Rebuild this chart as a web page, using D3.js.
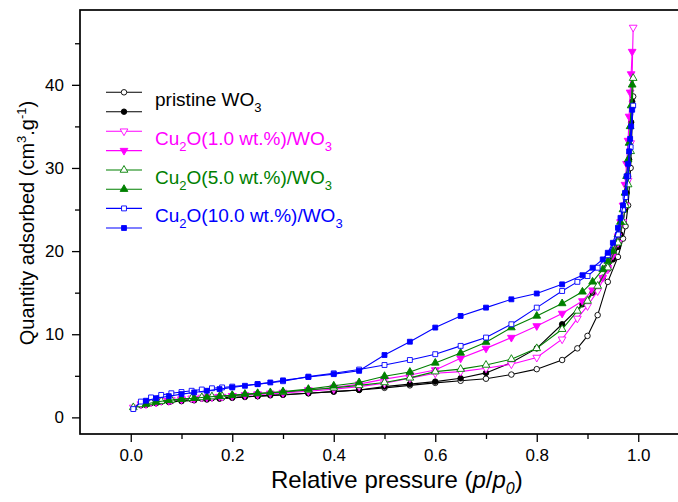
<!DOCTYPE html>
<html>
<head>
<meta charset="utf-8">
<script src="https://cdn.jsdelivr.net/npm/d3@7"></script>
<style>
  html, body { margin: 0; padding: 0; background: #fff; }
  svg { display: block; font-family: "Liberation Sans", Arial, sans-serif; }
</style>
</head>
<body>
<svg id="chart" width="678" height="502"></svg>
<script>
// Relative pressure grids (p/p0) for the adsorption and desorption branches
const adsP = [0.005, 0.02, 0.04, 0.06, 0.08, 0.10, 0.12, 0.14, 0.16, 0.18,
  0.20, 0.25, 0.30, 0.35, 0.40, 0.45, 0.50, 0.55, 0.60, 0.65,
  0.70, 0.75, 0.80, 0.85, 0.88, 0.90, 0.92, 0.94, 0.96, 0.97,
  0.975, 0.98, 0.985, 0.99];
const desP = [0.988, 0.986, 0.984, 0.982, 0.98, 0.977, 0.974, 0.97, 0.965, 0.96,
  0.95, 0.94, 0.93, 0.91, 0.89, 0.85, 0.80, 0.75, 0.70, 0.65,
  0.60, 0.55, 0.50, 0.45, 0.40, 0.35, 0.30, 0.275, 0.25, 0.225,
  0.20, 0.175, 0.15, 0.125, 0.10, 0.075, 0.05, 0.03];

// Quantity adsorbed (cm3/g), adsorption branch
const pristineAds = [1.1, 1.45, 1.7, 1.85, 1.95, 2.05, 2.15, 2.25, 2.3, 2.35,
  2.4, 2.55, 2.7, 2.9, 3.1, 3.3, 3.55, 3.85, 4.15, 4.4,
  4.65, 5.15, 5.8, 6.9, 8.3, 9.8, 12.3, 16.3, 19.3, 21.5,
  23.0, 25.5, 30.0, 38.6];
const cu1Ads = [1.2, 1.6, 1.85, 2.0, 2.1, 2.2, 2.3, 2.4, 2.45, 2.5,
  2.6, 2.75, 2.95, 3.15, 3.4, 3.7, 4.1, 4.7, 5.3, 5.5,
  5.9, 6.4, 7.2, 9.4, 11.9, 13.4, 15.2, 17.8, 21.0, 23.5,
  25.5, 28.5, 33.0, 46.9];
const cu5Ads = [1.2, 1.55, 1.8, 1.95, 2.1, 2.2, 2.3, 2.4, 2.5, 2.55,
  2.65, 2.85, 3.05, 3.3, 3.55, 3.85, 4.2, 4.75, 5.5, 5.8,
  6.3, 7.0, 8.3, 10.6, 12.8, 14.0, 15.8, 18.0, 21.0, 23.5,
  25.5, 28.0, 32.0, 40.8];
const cu10Ads = [1.0, 1.9, 2.4, 2.7, 2.9, 3.05, 3.2, 3.35, 3.5, 3.6,
  3.7, 4.0, 4.35, 4.9, 5.3, 5.75, 6.3, 6.9, 7.6, 8.6,
  9.6, 11.2, 13.2, 15.2, 16.3, 17.0, 18.0, 19.5, 22.0, 25.0,
  26.5, 29.0, 32.5, 37.5];

// Quantity adsorbed (cm3/g), desorption branch
const pristineDes = [38.0, 35.5, 33.0, 31.0, 29.0, 27.0, 25.0, 23.5, 22.0, 20.5,
  19.0, 17.8, 16.8, 15.0, 13.6, 11.2, 8.3, 6.6, 5.35, 4.7,
  4.3, 4.0, 3.7, 3.3, 3.1, 2.9, 2.75, 2.65, 2.55, 2.45,
  2.35, 2.25, 2.15, 2.05, 1.95, 1.85, 1.7, 1.5];
const cu1Des = [44.0, 41.3, 39.1, 36.2, 33.3, 30.5, 28.0, 25.5, 23.5, 21.8,
  19.5, 18.0, 16.8, 15.3, 14.0, 12.5, 11.0, 9.6, 8.3, 7.1,
  5.7, 5.1, 4.6, 4.0, 3.6, 3.3, 3.0, 2.9, 2.8, 2.7,
  2.6, 2.5, 2.4, 2.25, 2.15, 2.0, 1.8, 1.6];
const cu5Des = [40.0, 37.5, 35.0, 33.0, 31.0, 29.0, 27.0, 25.0, 23.5, 22.0,
  20.0, 18.8, 17.8, 16.3, 15.1, 13.7, 12.2, 10.8, 9.05, 7.75,
  6.55, 5.45, 4.95, 4.2, 3.8, 3.4, 3.1, 3.0, 2.9, 2.8,
  2.65, 2.55, 2.45, 2.3, 2.2, 2.05, 1.85, 1.6];
const cu10Des = [37.0, 35.0, 33.5, 32.0, 30.5, 29.0, 27.0, 25.5, 24.0, 22.8,
  21.0, 19.8, 19.0, 18.0, 17.1, 16.0, 14.9, 14.2, 13.2, 12.2,
  10.8, 9.1, 7.5, 5.6, 5.2, 4.85, 4.45, 4.2, 4.0, 3.8,
  3.6, 3.4, 3.2, 3.0, 2.8, 2.55, 2.3, 2.0];

// Cu2O loading of each sample ("pristine" = bare WO3)
const sampleNames = ["pristine", "1.0 wt.%", "5.0 wt.%", "10.0 wt.%"];

// Axis ticks
const xMajorTicks = [0.0, 0.2, 0.4, 0.6, 0.8, 1.0];
const xMinorTicks = [0.1, 0.3, 0.5, 0.7, 0.9];
const yMajorTicks = [0, 10, 20, 30, 40];
const yMinorTicks = [5, 15, 25, 35, 45];

// ---- styling ----
const colors = ["#000000", "#ff00ff", "#008000", "#0000ff"];
const symbolTypes = [d3.symbolCircle, d3.symbolTriangle, d3.symbolTriangle, d3.symbolSquare];
const symbolRotate = [0, 180, 0, 0];
const symbolSizes = [24, 26, 26, 24];

const adsSets = [pristineAds, cu1Ads, cu5Ads, cu10Ads];
const desSets = [pristineDes, cu1Des, cu5Des, cu10Des];

const svg = d3.select("#chart");
const W = 678, H = 502;
svg.append("rect").attr("width", W).attr("height", H).attr("fill", "#fff");

const plot = { left: 80, top: 10, right: 689, bottom: 434 };
const x = d3.scaleLinear().domain([-0.1, 1.1]).range([plot.left, plot.right]);
const y = d3.scaleLinear().domain([-2, 49]).range([plot.bottom, plot.top]);

// Axes: major + minor ticks, outward
const xAxis = d3.axisBottom(x).tickValues(xMajorTicks).tickSize(8).tickSizeOuter(0)
  .tickFormat(d3.format(".1f"));
const xAxisMinor = d3.axisBottom(x).tickValues(xMinorTicks).tickSize(5).tickSizeOuter(0).tickFormat("");
const yAxis = d3.axisLeft(y).tickValues(yMajorTicks).tickSize(8).tickSizeOuter(0);
const yAxisMinor = d3.axisLeft(y).tickValues(yMinorTicks).tickSize(5).tickSizeOuter(0).tickFormat("");

function styleAxis(g) {
  g.select(".domain").remove();
  g.selectAll(".tick line").attr("stroke", "#000").attr("stroke-width", 1.3);
  g.selectAll(".tick text").attr("fill", "#000").attr("font-size", 17)
    .attr("font-family", "'Liberation Sans', Arial, sans-serif");
}

svg.append("g").attr("transform", `translate(0,${plot.bottom})`).call(xAxis).call(styleAxis)
  .selectAll(".tick text").attr("dy", "0.95em");
svg.append("g").attr("transform", `translate(0,${plot.bottom})`).call(xAxisMinor).call(styleAxis);
svg.append("g").attr("transform", `translate(${plot.left},0)`).call(yAxis).call(styleAxis)
  .selectAll(".tick text").attr("dx", "-0.3em");
svg.append("g").attr("transform", `translate(${plot.left},0)`).call(yAxisMinor).call(styleAxis);

// Frame
svg.append("rect")
  .attr("x", plot.left).attr("y", plot.top)
  .attr("width", plot.right - plot.left).attr("height", plot.bottom - plot.top)
  .attr("fill", "none").attr("stroke", "#000").attr("stroke-width", 1.7);

// Isotherm curves
const line = d3.line().x(d => x(d[0])).y(d => y(d[1]));
const curves = svg.append("g");

function symbolPath(i) {
  return d3.symbol().type(symbolTypes[i]).size(symbolSizes[i])();
}

sampleNames.forEach((name, i) => {
  const ads = adsP.map((p, k) => [p, adsSets[i][k]]);
  const des = desP.map((p, k) => [p, desSets[i][k]]);
  const g = curves.append("g");

  [[ads, false], [des, true]].forEach(([pts, filled]) => {
    g.append("path").datum(pts).attr("d", line)
      .attr("fill", "none").attr("stroke", colors[i]).attr("stroke-width", 1.1);
    g.selectAll(null).data(pts).enter().append("path")
      .attr("d", symbolPath(i))
      .attr("transform", d => `translate(${x(d[0])},${y(d[1])}) rotate(${symbolRotate[i]})`)
      .attr("fill", filled ? colors[i] : "#fff")
      .attr("stroke", colors[i]).attr("stroke-width", 0.9);
  });
});

// Legend
const legend = svg.append("g");
const legendRows = [92.3, 111.7, 131.2, 150.6, 170.0, 189.2, 208.4, 228.0];
const lx0 = 106, lx1 = 142, lxm = 124;
sampleNames.forEach((name, i) => {
  [0, 1].forEach(j => {
    const ry = legendRows[i * 2 + j];
    legend.append("line").attr("x1", lx0).attr("x2", lx1).attr("y1", ry).attr("y2", ry)
      .attr("stroke", colors[i]).attr("stroke-width", 1.1);
    legend.append("path").attr("d", symbolPath(i))
      .attr("transform", `translate(${lxm},${ry}) rotate(${symbolRotate[i]})`)
      .attr("fill", j === 1 ? colors[i] : "#fff")
      .attr("stroke", colors[i]).attr("stroke-width", 0.9);
  });
  const ty = (legendRows[i * 2] + legendRows[i * 2 + 1]) / 2 + 4;
  const t = legend.append("text").attr("x", 155).attr("y", ty)
    .attr("font-size", 19).attr("fill", colors[i]);
  if (i === 0) {
    t.append("tspan").text("pristine WO");
  } else {
    t.append("tspan").text("Cu");
    t.append("tspan").attr("font-size", 13).attr("dy", 6).text("2");
    t.append("tspan").attr("dy", -6).text(`O(${name})/WO`);
  }
  t.append("tspan").attr("font-size", 13).attr("dy", 6).text("3");
});

// Axis titles
const xt = svg.append("text").attr("x", 271).attr("y", 487.5)
  .attr("text-anchor", "start").attr("font-size", 24).attr("fill", "#000");
xt.append("tspan").text("Relative pressure (");
xt.append("tspan").attr("font-style", "italic").text("p");
xt.append("tspan").text("/");
xt.append("tspan").attr("font-style", "italic").text("p");
xt.append("tspan").attr("font-style", "italic").attr("font-size", 16).attr("dy", 6).text("0");
xt.append("tspan").attr("dy", -6).text(")");

const yt = svg.append("text")
  .attr("transform", "translate(34,223) rotate(-90)")
  .attr("text-anchor", "middle").attr("font-size", 20).attr("fill", "#000");
yt.append("tspan").text("Quantity adsorbed (cm");
yt.append("tspan").attr("font-size", 13).attr("dy", -8).text("3");
yt.append("tspan").attr("dy", 8).text(".g");
yt.append("tspan").attr("font-size", 13).attr("dy", -8).text("-1");
yt.append("tspan").attr("dy", 8).text(")");
</script>
</body>
</html>
